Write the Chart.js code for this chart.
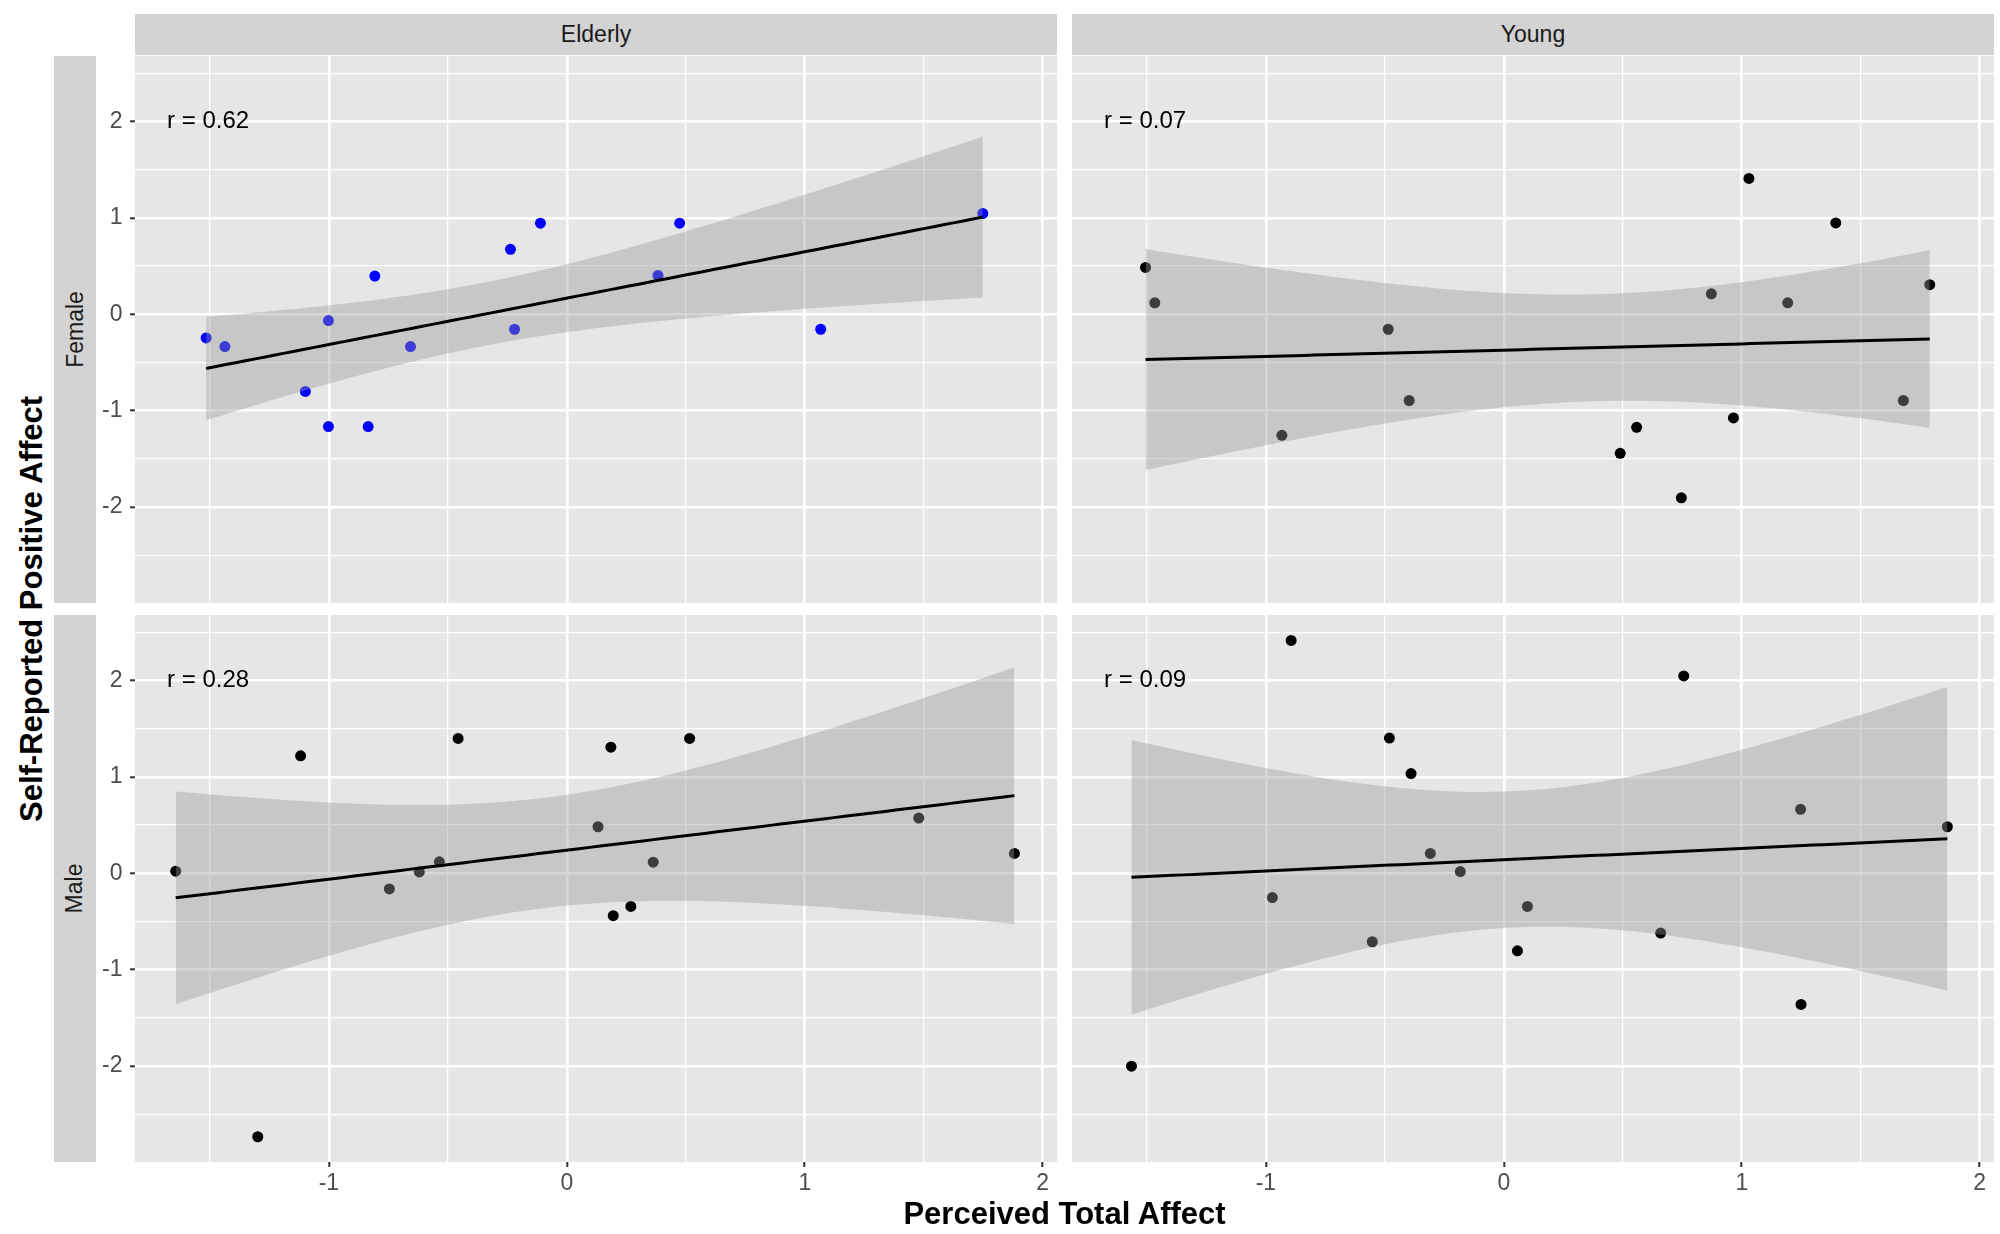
<!DOCTYPE html>
<html>
<head>
<meta charset="utf-8">
<script src="https://cdn.jsdelivr.net/npm/chart.js@4.4.1/dist/chart.umd.min.js"></script>
<style>
html,body{margin:0;padding:0;background:#ffffff;}
#root{position:relative;width:2000px;height:1234px;overflow:hidden;font-family:"Liberation Sans",Arial,sans-serif;background:#ffffff;}
canvas{position:absolute;}
.strip{position:absolute;background:#D3D3D3;color:#1A1A1A;font-size:23px;display:flex;align-items:center;justify-content:center;}
.vtext{transform:rotate(-90deg);white-space:nowrap;}
.xtitle{position:absolute;left:135px;width:1859px;top:1194px;height:40px;text-align:center;font-weight:bold;font-size:31px;color:#000;line-height:40px;}
.ytitle{position:absolute;left:32px;top:609px;transform:translate(-50%,-50%) rotate(-90deg);font-weight:bold;font-size:31px;color:#000;white-space:nowrap;}
</style>
</head>
<body>
<div id="root">
  <div class="strip" id="colStrip0" style="left:135px;top:14px;width:922px;height:41px;"></div>
  <div class="strip" id="colStrip1" style="left:1072px;top:14px;width:922px;height:41px;"></div>
  <div class="strip" id="rowStrip0" style="left:54px;top:56px;width:42px;height:547px;"><span class="vtext"></span></div>
  <div class="strip" id="rowStrip1" style="left:54px;top:615px;width:42px;height:547px;"><span class="vtext"></span></div>
  <canvas id="c0" width="997" height="547" style="left:60px;top:56px;"></canvas>
  <canvas id="c1" width="922" height="547" style="left:1072px;top:56px;"></canvas>
  <canvas id="c2" width="997" height="592" style="left:60px;top:615px;"></canvas>
  <canvas id="c3" width="922" height="592" style="left:1072px;top:615px;"></canvas>
  <div class="xtitle" id="xTitle"></div>
  <div class="ytitle" id="yTitle"></div>
</div>
<script>
// ---------- data ----------
const colGroups = ['Elderly', 'Young'];
const rowGroups = ['Female', 'Male'];
const xAxisTitle = 'Perceived Total Affect';
const yAxisTitle = 'Self-Reported Positive Affect';
const rLabels = ['r = 0.62', 'r = 0.07', 'r = 0.28', 'r = 0.09'];

const xTicks = [-1.5, -1, -0.5, 0, 0.5, 1, 1.5, 2];
const yTicks = [-2.5, -2, -1.5, -1, -0.5, 0, 0.5, 1, 1.5, 2, 2.5];
const xLimits = [-1.815, 2.06];
const yLimits = [-2.995, 2.68];
const annotX = -1.68;
const annotY = 2;

const elderlyFemaleX = [-1.516, -1.437, -1.099, -1.002, -1.002, -0.835, -0.807, -0.657, -0.237, -0.220, -0.111, 0.383, 0.474, 1.067, 1.748];
const elderlyFemaleY = [-0.245, -0.335, -0.800, -0.065, -1.165, -1.165, 0.397, -0.335, 0.674, -0.155, 0.945, 0.404, 0.945, -0.155, 1.046];

const youngFemaleX = [-1.506, -1.467, -0.933, -0.486, -0.398, 0.489, 0.558, 0.746, 0.872, 0.965, 1.030, 1.193, 1.395, 1.679, 1.790];
const youngFemaleY = [0.487, 0.119, -1.255, -0.155, -0.894, -1.442, -1.172, -1.904, 0.213, -1.075, 1.410, 0.119, 0.948, -0.894, 0.307];

const elderlyMaleX = [-1.644, -1.299, -1.119, -0.746, -0.620, -0.536, -0.457, 0.131, 0.185, 0.195, 0.269, 0.363, 0.516, 1.479, 1.881];
const elderlyMaleY = [0.022, -2.733, 1.219, -0.162, 0.014, 0.119, 1.399, 0.483, 1.309, -0.440, -0.343, 0.115, 1.399, 0.573, 0.206];

const youngMaleX = [-1.565, -0.973, -0.894, -0.553, -0.481, -0.390, -0.309, -0.183, 0.057, 0.099, 0.659, 0.756, 1.247, 1.249, 1.864];
const youngMaleY = [-2.001, -0.252, 2.416, -0.710, 1.403, 1.035, 0.206, 0.018, -0.804, -0.343, -0.620, 2.048, 0.664, -1.360, 0.483];

const pointColors = ['#0000FF', '#000000', '#000000', '#000000'];

// Student t 97.5% quantiles by degrees of freedom (for 95% CI of lm fit)
const T975 = {8: 2.3060, 9: 2.2622, 10: 2.2281, 11: 2.2010, 12: 2.1788, 13: 2.1604, 14: 2.1448, 15: 2.1314, 16: 2.1199, 17: 2.1098, 18: 2.1009};

// ---------- text ----------
document.getElementById('colStrip0').textContent = colGroups[0];
document.getElementById('colStrip1').textContent = colGroups[1];
document.querySelector('#rowStrip0 .vtext').textContent = rowGroups[0];
document.querySelector('#rowStrip1 .vtext').textContent = rowGroups[1];
document.getElementById('xTitle').textContent = xAxisTitle;
document.getElementById('yTitle').textContent = yAxisTitle;

// ---------- linear fit with 95% confidence band (as geom_smooth(method = "lm")) ----------
function lmFit(xs, ys) {
  const n = xs.length;
  const mx = xs.reduce((a, b) => a + b, 0) / n;
  const my = ys.reduce((a, b) => a + b, 0) / n;
  let sxx = 0, sxy = 0, syy = 0;
  for (let i = 0; i < n; i++) {
    sxx += (xs[i] - mx) * (xs[i] - mx);
    sxy += (xs[i] - mx) * (ys[i] - my);
    syy += (ys[i] - my) * (ys[i] - my);
  }
  const b = sxy / sxx;
  const a = my - b * mx;
  const s = Math.sqrt((syy - b * sxy) / (n - 2));
  const t = T975[n - 2];
  const lo = Math.min(...xs), hi = Math.max(...xs);
  const line = [], upper = [], lower = [];
  const steps = 80;
  for (let k = 0; k < steps; k++) {
    const x = lo + (hi - lo) * k / (steps - 1);
    const f = a + b * x;
    const se = s * Math.sqrt(1 / n + (x - mx) * (x - mx) / sxx);
    line.push({x: x, y: f});
    upper.push({x: x, y: f + t * se});
    lower.push({x: x, y: f - t * se});
  }
  return {line, upper, lower};
}

const FONT = '"Liberation Sans", Arial, sans-serif';
const isMajor = v => Math.abs(v - Math.round(v)) < 1e-9;

const panelBg = {
  id: 'panelBg',
  beforeDraw(chart) {
    const {ctx, chartArea: a} = chart;
    ctx.save();
    ctx.fillStyle = '#E6E6E6';
    ctx.fillRect(a.left, a.top, a.right - a.left, a.bottom - a.top);
    ctx.restore();
  }
};

const rLabelPlugin = {
  id: 'rLabel',
  afterDatasetsDraw(chart, args, opts) {
    const {ctx, scales} = chart;
    ctx.save();
    ctx.font = '24px ' + FONT;
    ctx.fillStyle = '#000000';
    ctx.textAlign = 'left';
    ctx.textBaseline = 'middle';
    ctx.fillText(opts.text, scales.x.getPixelForValue(annotX), scales.y.getPixelForValue(annotY));
    ctx.restore();
  }
};

function zeroPad(s) {
  s.paddingTop = 0; s.paddingBottom = 0; s.paddingLeft = 0; s.paddingRight = 0;
}

function makePanel(canvasId, xs, ys, color, rText, showX, showY) {
  const fit = lmFit(xs, ys);
  const pts = xs.map((x, i) => ({x: x, y: ys[i]}));
  const gridOpts = (show) => ({
    color: '#FFFFFF',
    lineWidth: ctx => (ctx.tick && isMajor(ctx.tick.value)) ? 2.6 : 1.3,
    drawTicks: show,
    tickLength: 5,
    tickWidth: 2,
    tickColor: ctx => (ctx.tick && isMajor(ctx.tick.value)) ? '#333333' : 'rgba(0,0,0,0)'
  });
  const tickOpts = (show, pad) => ({
    display: show,
    autoSkip: false,
    maxRotation: 0,
    minRotation: 0,
    padding: pad,
    color: '#4D4D4D',
    font: {family: FONT, size: 23},
    callback: v => isMajor(v) ? String(Math.round(v)) : ''
  });
  return new Chart(document.getElementById(canvasId), {
    type: 'scatter',
    data: {
      datasets: [
        {data: pts, showLine: false, pointRadius: 5.5, pointHoverRadius: 5.5,
         pointBackgroundColor: color, pointBorderColor: color, pointBorderWidth: 0, order: 3},
        {data: fit.upper, showLine: true, pointRadius: 0, borderColor: 'rgba(0,0,0,0)',
         borderWidth: 1, fill: false, order: 2},
        {data: fit.lower, showLine: true, pointRadius: 0, borderColor: 'rgba(0,0,0,0)',
         borderWidth: 1, fill: '-1', backgroundColor: 'rgba(153,153,153,0.4)', order: 2},
        {data: fit.line, showLine: true, pointRadius: 0, borderColor: '#000000',
         borderWidth: 3, fill: false, order: 1}
      ]
    },
    options: {
      responsive: false,
      animation: false,
      events: [],
      layout: {padding: 0, autoPadding: false},
      plugins: {legend: {display: false}, tooltip: {enabled: false}, rLabel: {text: rText}},
      scales: {
        x: {
          type: 'linear', position: 'bottom', min: xLimits[0], max: xLimits[1],
          afterBuildTicks: s => { s.ticks = xTicks.map(v => ({value: v})); },
          afterFit: s => { s.height = showX ? 45 : 0; zeroPad(s); },
          grid: gridOpts(showX),
          border: {display: false},
          ticks: tickOpts(showX, 3)
        },
        y: {
          type: 'linear', position: 'left', min: yLimits[0], max: yLimits[1],
          afterBuildTicks: s => { s.ticks = yTicks.map(v => ({value: v})); },
          afterFit: s => { s.width = showY ? 75 : 0; zeroPad(s); },
          grid: gridOpts(showY),
          border: {display: false},
          ticks: tickOpts(showY, 7.5)
        }
      }
    },
    plugins: [panelBg, rLabelPlugin]
  });
}

makePanel('c0', elderlyFemaleX, elderlyFemaleY, pointColors[0], rLabels[0], false, true);
makePanel('c1', youngFemaleX, youngFemaleY, pointColors[1], rLabels[1], false, false);
makePanel('c2', elderlyMaleX, elderlyMaleY, pointColors[2], rLabels[2], true, true);
makePanel('c3', youngMaleX, youngMaleY, pointColors[3], rLabels[3], true, false);
</script>
</body>
</html>
